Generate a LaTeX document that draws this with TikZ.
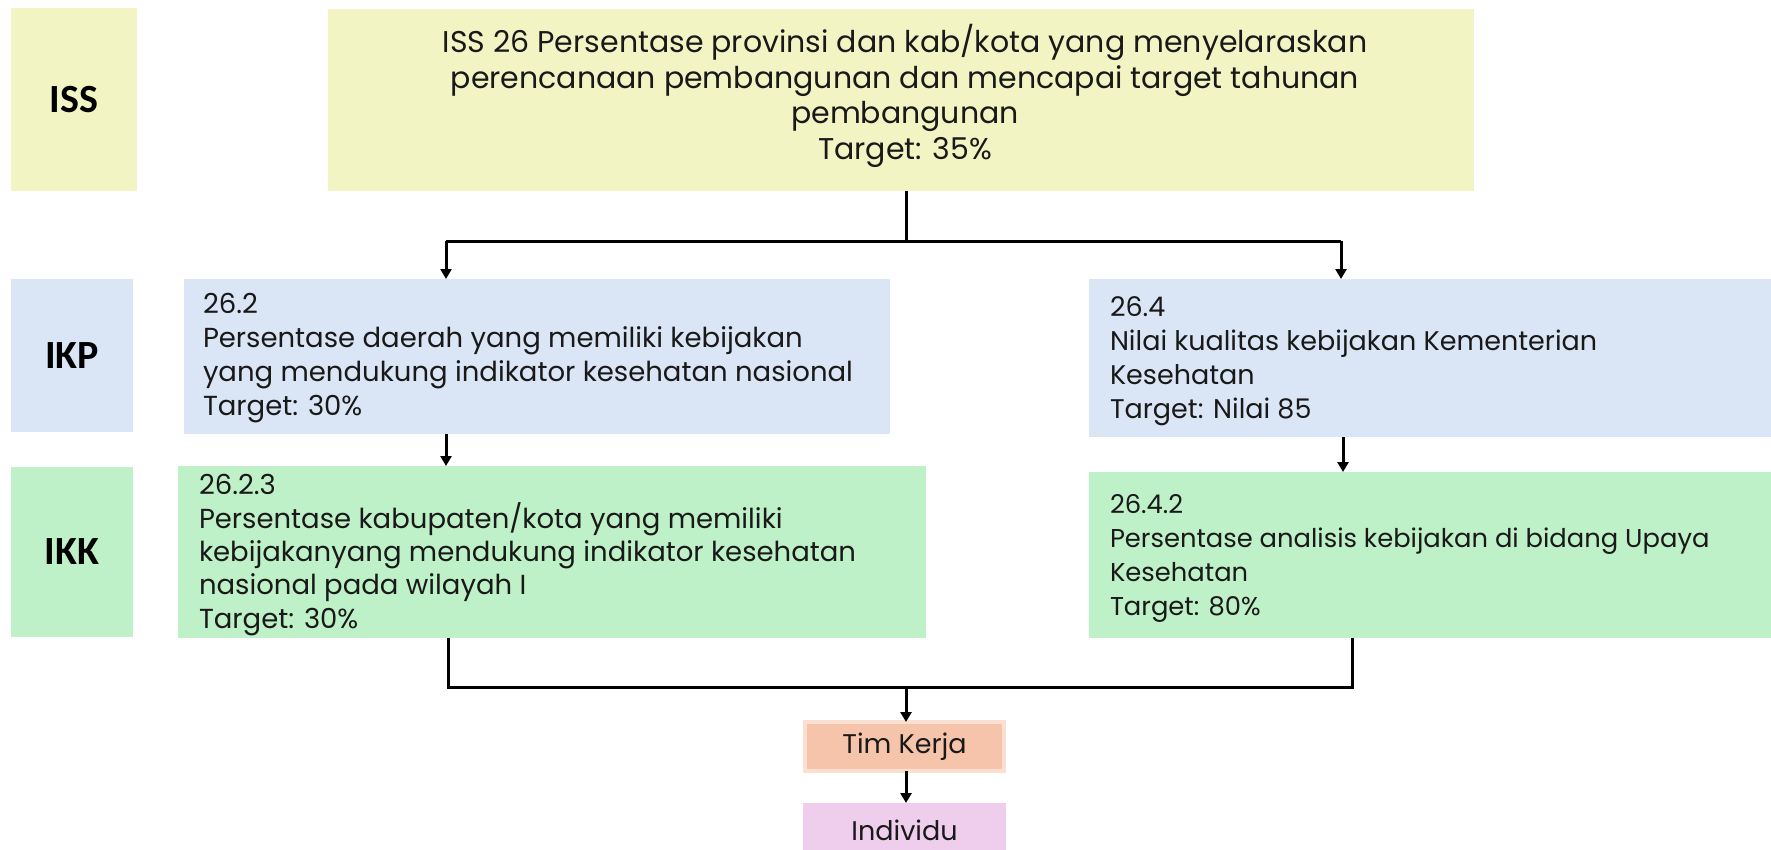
\documentclass[tikz,border=0pt]{standalone}
\usepackage{fontspec}
\setmainfont{Poppins}
\newfontfamily\lblfont{Carlito}
\usetikzlibrary{arrows.meta}
\definecolor{issyellow}{HTML}{F2F5C3}
\definecolor{ikpblue}{HTML}{DAE5F6}
\definecolor{ikkgreen}{HTML}{BFF1C8}
\definecolor{timsalmon}{HTML}{F5C4AA}
\definecolor{timborder}{HTML}{FBE0D2}
\definecolor{indpink}{HTML}{EFCDED}
\begin{document}
\begin{tikzpicture}[x=1pt,y=-1pt,
  box/.style={draw=none,inner sep=0pt,outer sep=0pt,rectangle},
  lbl/.style={font=\lblfont\bfseries\fontsize{40}{46}\selectfont,text=black},
  txt/.style={inner sep=0pt,outer sep=0pt,align=left,anchor=west,font=\fontsize{27.5}{34}\selectfont,text=black!90},
  conn/.style={line width=3pt,black},
  arr/.style={line width=3pt,black,-{Triangle[length=10pt,width=11pt]}}]
\useasboundingbox (0,0) rectangle (1771,849);
% row labels
\node[box,fill=issyellow,minimum width=126pt,minimum height=183pt,lbl] (lbliss) at (74,99.5) {ISS};
\node[box,fill=ikpblue,minimum width=122pt,minimum height=153pt,lbl] (lblikp) at (72,355.5) {IKP};
\node[box,fill=ikkgreen,minimum width=122pt,minimum height=170pt,lbl] (lblikk) at (72,552) {IKK};
% boxes
\node[box,fill=issyellow,minimum width=1146pt,minimum height=182pt] (iss) at (901,100) {};
\node[box,fill=ikpblue,minimum width=706pt,minimum height=155pt] (ikpL) at (537,356.5) {};
\node[box,fill=ikpblue,minimum width=682pt,minimum height=158pt] (ikpR) at (1430,358) {};
\node[box,fill=ikkgreen,minimum width=748pt,minimum height=172pt] (ikkL) at (552,552) {};
\node[box,fill=ikkgreen,minimum width=682pt,minimum height=166pt] (ikkR) at (1430,555) {};
\node[box,fill=timsalmon,draw=timborder,line width=4pt,minimum width=199pt,minimum height=49pt,font=\fontsize{27}{30}\selectfont,text=black!90] (tim) at (904.5,746.5) {Tim Kerja};
\node[box,fill=indpink,minimum width=203pt,minimum height=57pt] (ind) at (904.5,831.5) {};
\node[inner sep=0pt,font=\fontsize{27}{30}\selectfont,text=black!90] (indtxt) at (904.5,830) {Individu};
% texts
\node[txt,align=center,anchor=center,font=\fontsize{30}{35.5}\selectfont] (isstxt) at (905,96) {ISS 26 Persentase provinsi dan kab/kota yang menyelaraskan\\perencanaan pembangunan dan mencapai target tahunan\\pembangunan\\Target: 35\%};
\node[txt] (ikpLtxt) at (203,358.5) {26.2\\Persentase daerah yang memiliki kebijakan\\yang mendukung indikator kesehatan nasional\\Target: 30\%};
\node[txt,font=\fontsize{27}{34}\selectfont] (ikpRtxt) at (1110,361.5) {26.4\\Nilai kualitas kebijakan Kementerian\\Kesehatan\\Target: Nilai 85};
\node[txt,font=\fontsize{27.5}{33.3}\selectfont] (ikkLtxt) at (199,555) {26.2.3\\Persentase kabupaten/kota yang memiliki\\kebijakanyang mendukung indikator kesehatan\\nasional pada wilayah I\\Target: 30\%};
\node[txt,font=\fontsize{25.8}{34}\selectfont] (ikkRtxt) at (1110,558.5) {26.4.2\\Persentase analisis kebijakan di bidang Upaya\\Kesehatan\\Target: 80\%};
% junctions
\coordinate (j0) at (906,241);
\coordinate (jL) at (446,241);
\coordinate (jR) at (1341,241);
\coordinate (aL) at (446,450);
\coordinate (aR) at (1343,450);
\coordinate (bL) at (448,687);
\coordinate (bR) at (1352,687);
\coordinate (bM) at (906,687);
% connectors
\draw[conn] (iss.south -| j0) -- (j0);
\draw[conn] (jL) -- (jR);
\draw[arr] (jL) -- (jL |- ikpL.north);
\draw[arr] (jR) -- (jR |- ikpR.north);
\draw[arr] (ikpL.south -| aL) -- (ikkL.north -| aL);
\draw[arr] (ikpR.south -| aR) -- (ikkR.north -| aR);
\draw[conn] (ikkL.south -| bL) -- (bL) -- (bR) -- (ikkR.south -| bR);
\draw[arr] (bM) -- (bM |- tim.north);
\draw[arr] (tim.south -| bM) -- (ind.north -| bM);
\end{tikzpicture}
\end{document}
